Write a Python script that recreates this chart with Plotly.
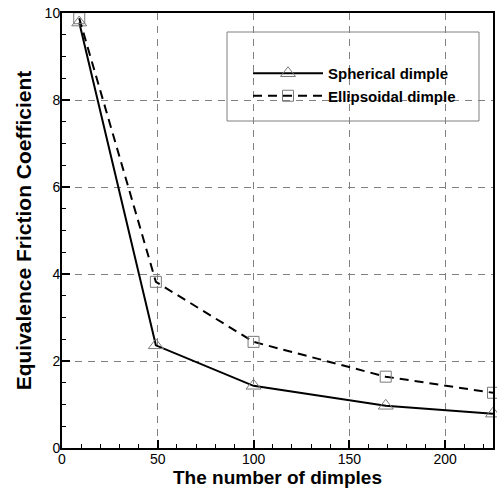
import plotly.graph_objects as go

dimples_sph = [9, 49, 100, 169, 225]
coef_sph = [9.78, 2.36, 1.43, 0.97, 0.79]
dimples_ell = [9, 49, 100, 169, 225]
coef_ell = [9.88, 3.82, 2.44, 1.64, 1.27]
x_ticks = [0, 50, 100, 150, 200]
y_ticks = [0, 2, 4, 6, 8, 10]

FONT = "Liberation Sans, Arial, sans-serif"

fig = go.Figure()
fig.add_trace(go.Scatter(
    x=dimples_sph, y=coef_sph, name="<b>Spherical dimple</b>", mode="lines+markers",
    line=dict(color="black", width=2),
    marker=dict(symbol="triangle-up-open", size=13, color="#7a7a7a", line=dict(width=1, color="#7a7a7a")),
    cliponaxis=False,
))
fig.add_trace(go.Scatter(
    x=dimples_ell, y=coef_ell, name="<b>Ellipsoidal dimple</b>", mode="lines+markers",
    line=dict(color="black", width=2, dash="9px,6px"),
    marker=dict(symbol="square-open", size=11, color="#7a7a7a", line=dict(width=1, color="#7a7a7a")),
    cliponaxis=False,
))

axis_common = dict(
    showline=True, linecolor="black", linewidth=2, mirror=True,
    ticks="inside", ticklen=8, tickwidth=2, tickcolor="black",
    showgrid=True, gridcolor="#808080", gridwidth=1, griddash="7px,6px",
    zeroline=False, automargin=False,
    tickfont=dict(family=FONT, size=14, color="black"),
)

fig.update_xaxes(
    range=[0, 225], tickvals=x_ticks, ticklabelstandoff=-3,
    minor=dict(dtick=10, ticks="inside", ticklen=4, tickwidth=1, tickcolor="black", showgrid=False),
    title=dict(text="<b>The number of dimples</b>", standoff=0,
               font=dict(family=FONT, size=19, color="black")),
    **axis_common,
)
fig.update_yaxes(
    range=[0, 10], tickvals=y_ticks, ticklabelstandoff=-3,
    minor=dict(dtick=0.5, ticks="inside", ticklen=4, tickwidth=1, tickcolor="black", showgrid=False),
    title=dict(text="<b>Equivalence Friction Coefficient</b>", standoff=7,
               font=dict(family=FONT, size=21, color="black")),
    **axis_common,
)

fig.add_shape(type="rect", xref="paper", yref="paper",
              x0=(227 - 62) / 431, x1=(479 - 62) / 431,
              y0=(448 - 121) / 435, y1=(448 - 32) / 435,
              line=dict(color="#808080", width=1), fillcolor="white", layer="below")

fig.update_layout(
    width=497, height=488,
    margin=dict(l=62, r=4, t=13, b=40),
    paper_bgcolor="white", plot_bgcolor="white",
    showlegend=True,
    legend=dict(
        x=(248 - 62) / 431, y=(448 - 57) / 435, xanchor="left", yanchor="top",
        bgcolor="rgba(0,0,0,0)", borderwidth=0,
        itemwidth=70, tracegroupgap=0,
        font=dict(family=FONT, size=15, color="black"),
    ),
)

fig.write_html(
    "out.html",
    config={"displayModeBar": False},
    post_script="document.body.style.margin='0';document.body.style.overflow='hidden';",
)
